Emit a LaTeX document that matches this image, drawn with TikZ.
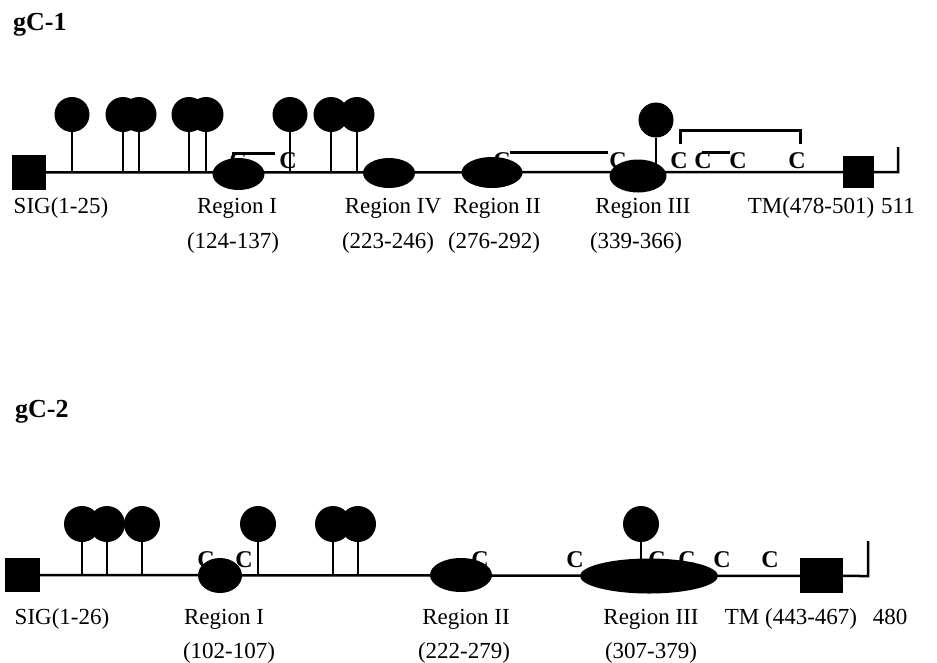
\documentclass[tikz,border=0pt]{standalone}
\usepackage{fontspec}
\setmainfont{Liberation Serif}
\usetikzlibrary{shapes.geometric}
\begin{document}
\begin{tikzpicture}[x=1pt,y=-1pt,
  backbone/.style={line width=2.5pt, line join=miter},
  stick/.style={line width=2pt},
  bond/.style={line width=3pt},
  sq/.style={rectangle, fill=black, inner sep=0pt, draw=none},
  glyc/.style={circle, fill=black, inner sep=0pt, minimum size=35pt},
  reg/.style={ellipse, fill=black, inner sep=0pt},
  lbl/.style={font=\fontsize{23}{25}\selectfont, anchor=base, inner sep=0pt},
  cys/.style={font=\bfseries\fontsize{24}{26}\selectfont, anchor=base, inner sep=0pt},
  ttl/.style={font=\bfseries\fontsize{26}{28}\selectfont, anchor=base west, inner sep=0pt}]
\useasboundingbox[fill=white] (0,0) rectangle (937,662);

% ================= gC-1 =================
\node[ttl] (t1) at (13,30) {gC-1};
\node[sq, minimum width=34pt, minimum height=35pt] (sig1) at (29,172.5) {};
\coordinate (end1) at (898,172);
\coordinate (tick1) at (898,147);
\draw[backbone] (sig1.center) -- (end1) -- (tick1);

% cysteines
\foreach \x [count=\i] in {238,288,502,618,679,703,738,797}
  \node[cys] (ca\i) at (\x,168) {C};
% disulfide bonds
\coordinate (b1s) at (232,153); \coordinate (b1e) at (275,153);
\draw[bond] (b1s) -- (b1e);
\coordinate (b2s) at (510,152); \coordinate (b2e) at (608,152);
\draw[bond] (b2s) -- (b2e);
\coordinate (b3s) at (702,152); \coordinate (b3e) at (730,152);
\draw[bond] (b3s) -- (b3e);
\coordinate (b4a) at (680,144); \coordinate (b4b) at (680,130);
\coordinate (b4c) at (800,130); \coordinate (b4d) at (800,144);
\draw[bond, line join=miter] (b4a) -- (b4b) -- (b4c) -- (b4d);

% regions
\node[reg, minimum width=52pt, minimum height=32pt] (r1a) at (238.5,174) {};
\node[reg, minimum width=52pt, minimum height=30pt] (r4a) at (389,173) {};
\node[reg, minimum width=61pt, minimum height=31pt] (r2a) at (492,172.5) {};
\node[reg, minimum width=57pt, minimum height=33pt] (r3a) at (638,176) {};
\node[sq, minimum width=31pt, minimum height=32pt] (tm1) at (858.5,172) {};

% glycosylation pins
\foreach \x [count=\i] in {72,123,139,189,206,290,331,357} {
  \coordinate (qa\i) at (\x,172);
  \node[glyc] (pa\i) at (\x,114.5) {};
  \draw[stick] (pa\i) -- (qa\i);
}
\coordinate (qa9) at (656,165);
\node[glyc] (pa9) at (656,120) {};
\draw[stick] (pa9) -- (qa9);

% labels
\node[lbl] (l11) at (61,213) {SIG(1-25)};
\node[lbl] (l12) at (237,213) {Region I};
\node[lbl] (l13) at (393,213) {Region IV};
\node[lbl] (l14) at (497,213) {Region II};
\node[lbl] (l15) at (643,213) {Region III};
\node[lbl] (l16) at (811,213) {TM(478-501)};
\node[lbl] (l17) at (898,213) {511};
\node[lbl] (l18) at (233,248) {(124-137)};
\node[lbl] (l19) at (388,248) {(223-246)};
\node[lbl] (l20) at (494,248) {(276-292)};
\node[lbl] (l21) at (636,248) {(339-366)};

% ================= gC-2 =================
\node[ttl] (t2) at (15,417) {gC-2};
\node[sq, minimum width=35pt, minimum height=34pt] (sig2) at (22.5,575) {};
\coordinate (end2) at (868,576);
\coordinate (tick2) at (868,541);
\draw[backbone] (sig2.center) -- (end2) -- (tick2);

\foreach \x [count=\i] in {206,244,480,575,657,687,722,770}
  \node[cys] (cb\i) at (\x,567) {C};

\node[reg, minimum width=44pt, minimum height=35pt] (r1b) at (220,575.5) {};
\node[reg, minimum width=62pt, minimum height=34pt] (r2b) at (461,575) {};
\node[reg, minimum width=138pt, minimum height=35pt] (r3b) at (649,576) {};
\node[sq, minimum width=43pt, minimum height=35pt] (tm2) at (821.5,575.5) {};

\foreach \x [count=\i] in {82,107,142,258,333,358} {
  \coordinate (qb\i) at (\x,576);
  \node[glyc, minimum size=36pt] (pb\i) at (\x,524) {};
  \draw[stick] (pb\i) -- (qb\i);
}
\coordinate (qb7) at (641,565);
\node[glyc, minimum size=36pt] (pb7) at (641,524) {};
\draw[stick] (pb7) -- (qb7);

\node[lbl] (m11) at (62,624) {SIG(1-26)};
\node[lbl] (m12) at (224,624) {Region I};
\node[lbl] (m13) at (466,624) {Region II};
\node[lbl] (m14) at (651,624) {Region III};
\node[lbl] (m15) at (791,624) {TM (443-467)};
\node[lbl] (m16) at (890,624) {480};
\node[lbl] (m17) at (229,658) {(102-107)};
\node[lbl] (m18) at (464,658) {(222-279)};
\node[lbl] (m19) at (651,658) {(307-379)};
\end{tikzpicture}
\end{document}
